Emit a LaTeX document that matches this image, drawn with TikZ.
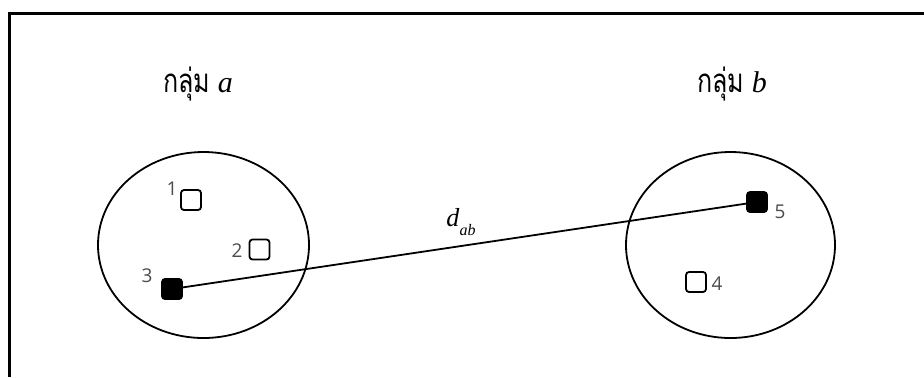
\documentclass[tikz,border=0pt]{standalone}
\usepackage{fontspec}
\setmainfont{Liberation Serif}
\newfontfamily\thaifont[Script=Thai, FakeStretch=0.76]{Loma}
\newfontfamily\numfont{Open Sans}
\usepackage{tikz}
\usetikzlibrary{positioning, shapes.geometric}
\tikzset{
  frame/.style={line width=1.4pt},
  cluster/.style={draw, ellipse, line width=0.9pt, inner sep=0pt},
  item/.style={draw, line width=0.9pt, rounded corners=1.5pt, minimum size=10pt, inner sep=0pt, fill=white},
  keyitem/.style={item, fill=black},
  numlab/.style={font=\numfont\fontsize{9.5}{11}\selectfont, text=black!70, inner sep=0pt},
  grouplab/.style={font=\fontsize{15}{17}\selectfont, inner sep=0pt},
  link/.style={line width=0.9pt},
  every node/.style={font=\small}
}
\begin{document}
\begin{tikzpicture}[x=0.5pt,y=-0.5pt]
    \useasboundingbox (0,0) rectangle (924,377);
    % frame, only top and left show
    \draw[frame] (924,13.5) -- (9.5,13.5) -- (9.5,377);
    % the two groups
    \node[cluster, minimum width=105.5pt, minimum height=93pt] (ga) at (203.5,245) {};
    \node[cluster, minimum width=104.5pt, minimum height=93pt] (gb) at (730.5,245) {};
    \node[grouplab] (la) at (198,84) {{\thaifont\fontsize{16.5}{18}\selectfont กลุ่ม} \textit{a}};
    \node[grouplab] (lb) at (732,84) {{\thaifont\fontsize{16.5}{18}\selectfont กลุ่ม} \textit{b}};
    % members
    \foreach \n/\x/\y/\s in {1/191/200/item,2/259.5/249.5/item,3/172/289/keyitem,4/696/282/item,5/757/202/keyitem}{
        \node[\s] (p\n) at (\x,\y) {};
    }
    \node[numlab] (n1) at (172,189) {1};
    \node[numlab] (n2) at (237,251) {2};
    \node[numlab] (n3) at (147,276) {3};
    \node[numlab] (n4) at (717,284) {4};
    \node[numlab] (n5) at (780,212) {5};
    % distance between the groups
    \draw[link] (p3) -- (p5);
    \node[font=\fontsize{13}{15}\selectfont] (dab) at (461,222) {\textit{d}\raisebox{-0.7ex}{\fontsize{8}{9}\selectfont\textit{ab}}};
\end{tikzpicture}
\end{document}
